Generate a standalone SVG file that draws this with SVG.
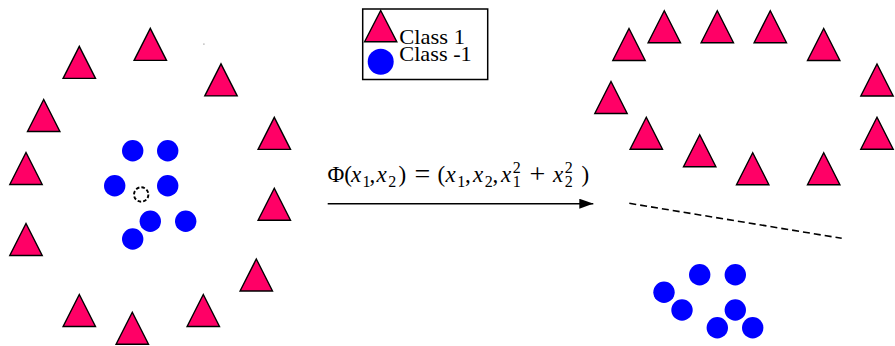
<svg xmlns="http://www.w3.org/2000/svg" width="895" height="346" viewBox="0 0 895 346">
<style>
.tri{fill:#ff0066;stroke:#000;stroke-width:1.4;stroke-linejoin:miter}
.dot{fill:#0000ff}
.m{font-family:"Liberation Serif",serif;font-size:23px;fill:#000}
.i{font-style:italic}
.s{font-size:16px}
.op{font-family:"Liberation Serif",serif;font-size:28px;fill:#000}
.lg{font-family:"Liberation Serif",serif;font-size:22px;fill:#000}
</style>
<defs>
<path id="t" class="tri" d="M0,-16 L16.2,16 L-16.2,16 Z"/>
<circle id="c" class="dot" r="10.7"/>
<marker id="ah" markerWidth="14" markerHeight="10" refX="14" refY="5" orient="auto" markerUnits="userSpaceOnUse">
<path d="M0,0 L14,5 L0,10 Z" fill="#000"/>
</marker>
</defs>
<rect width="895" height="346" fill="#fff"/>

<g id="left-class1">
<use id="L1" href="#t" x="79.3" y="62.4"/>
<use id="L2" href="#t" x="150.3" y="44.4"/>
<use id="L3" href="#t" x="221" y="79.9"/>
<use id="L4" href="#t" x="43.7" y="115.5"/>
<use id="L5" href="#t" x="274.3" y="133.4"/>
<use id="L6" href="#t" x="26" y="168.5"/>
<use id="L7" href="#t" x="274.3" y="204.2"/>
<use id="L8" href="#t" x="26" y="239.5"/>
<use id="L9" href="#t" x="256.3" y="275"/>
<use id="L10" href="#t" x="79.3" y="310.5"/>
<use id="L11" href="#t" x="132.3" y="328.2"/>
<use id="L12" href="#t" x="203.3" y="310.5"/>
</g>
<g id="left-class-1">
<use id="LC1" href="#c" x="132.7" y="150.7"/>
<use id="LC2" href="#c" x="167.7" y="150.7"/>
<use id="LC3" href="#c" x="114.7" y="185.7"/>
<use id="LC4" href="#c" x="167.7" y="185.7"/>
<use id="LC5" href="#c" x="150.3" y="221.3"/>
<use id="LC6" href="#c" x="185.7" y="221.3"/>
<use id="LC7" href="#c" x="132.7" y="239"/>
</g>
<g id="query-point">
<circle cx="141.2" cy="194.5" r="7.2" fill="none" stroke="#000" stroke-width="1.9" stroke-dasharray="3.6 2.05"/>
</g>
<rect x="203.3" y="43.5" width="1.2" height="1.2" fill="#999"/>

<g id="legend">
<rect x="362.7" y="9" width="125" height="70.5" fill="#fff" stroke="#000" stroke-width="1.5"/>
<path class="tri" d="M380.7,10.5 L396.8,41.8 L364.6,41.8 Z"/>
<circle class="dot" cx="380.7" cy="61.7" r="13"/>
<text class="lg" x="399.3" y="43.5" textLength="65.7" lengthAdjust="spacingAndGlyphs">Class 1</text>
<text class="lg" x="399.3" y="61" textLength="72.4" lengthAdjust="spacingAndGlyphs">Class -1</text>
</g>

<g id="connectors">
<line id="phi-arrow" x1="327.7" y1="203.7" x2="593.3" y2="203.7" stroke="#000" stroke-width="1.4" marker-end="url(#ah)"/>
<line id="separator" x1="629.3" y1="203.3" x2="841.7" y2="238.3" stroke="#000" stroke-width="1.6" stroke-dasharray="7 4"/>
</g>

<g id="phi-label">
<text class="m">
<tspan x="327.5" y="181.7">Φ(</tspan><tspan class="i" x="351" y="181.7">x</tspan><tspan class="s" x="362.5" y="186.5">1</tspan><tspan x="369.5" y="181.7">,</tspan><tspan class="i" x="376.5" y="181.7">x</tspan><tspan class="s" x="388.3" y="186.5">2</tspan><tspan x="398.5" y="181.7">)</tspan><tspan x="437.5" y="181.7">(</tspan><tspan class="i" x="445.5" y="181.7">x</tspan><tspan class="s" x="457.3" y="186.5">1</tspan><tspan x="465" y="181.7">,</tspan><tspan class="i" x="473" y="181.7">x</tspan><tspan class="s" x="484.8" y="186.5">2</tspan><tspan x="492.5" y="181.7">,</tspan><tspan class="i" x="501" y="181.7">x</tspan><tspan class="s" x="512.8" y="173">2</tspan><tspan class="s" x="512.8" y="187">1</tspan><tspan class="i" x="553" y="181.7">x</tspan><tspan class="s" x="564.8" y="173">2</tspan><tspan class="s" x="564.8" y="187">2</tspan><tspan x="581.5" y="181.7">)</tspan>
</text>
<text class="op" x="414.5" y="183">=</text>
<text class="op" x="529.5" y="183">+</text>
</g>

<g id="right-class1">
<use id="R1" href="#t" x="629" y="44.5"/>
<use id="R2" href="#t" x="664.3" y="26.7"/>
<use id="R3" href="#t" x="717.3" y="26.7"/>
<use id="R4" href="#t" x="770.3" y="26.7"/>
<use id="R5" href="#t" x="823.7" y="44.5"/>
<use id="R6" href="#t" x="877" y="80"/>
<use id="R7" href="#t" x="611" y="97.5"/>
<use id="R8" href="#t" x="646.3" y="133.3"/>
<use id="R9" href="#t" x="877" y="133.3"/>
<use id="R10" href="#t" x="699.7" y="150.8"/>
<use id="R11" href="#t" x="752.7" y="168.7"/>
<use id="R12" href="#t" x="823.7" y="168.7"/>
</g>
<g id="right-class-1">
<use id="RC1" href="#c" x="699.7" y="274.7"/>
<use id="RC2" href="#c" x="735.3" y="274.7"/>
<use id="RC3" href="#c" x="664" y="292.3"/>
<use id="RC4" href="#c" x="682" y="310"/>
<use id="RC5" href="#c" x="735.3" y="310"/>
<use id="RC6" href="#c" x="717.3" y="327.7"/>
<use id="RC7" href="#c" x="752.7" y="327.7"/>
</g>
</svg>
